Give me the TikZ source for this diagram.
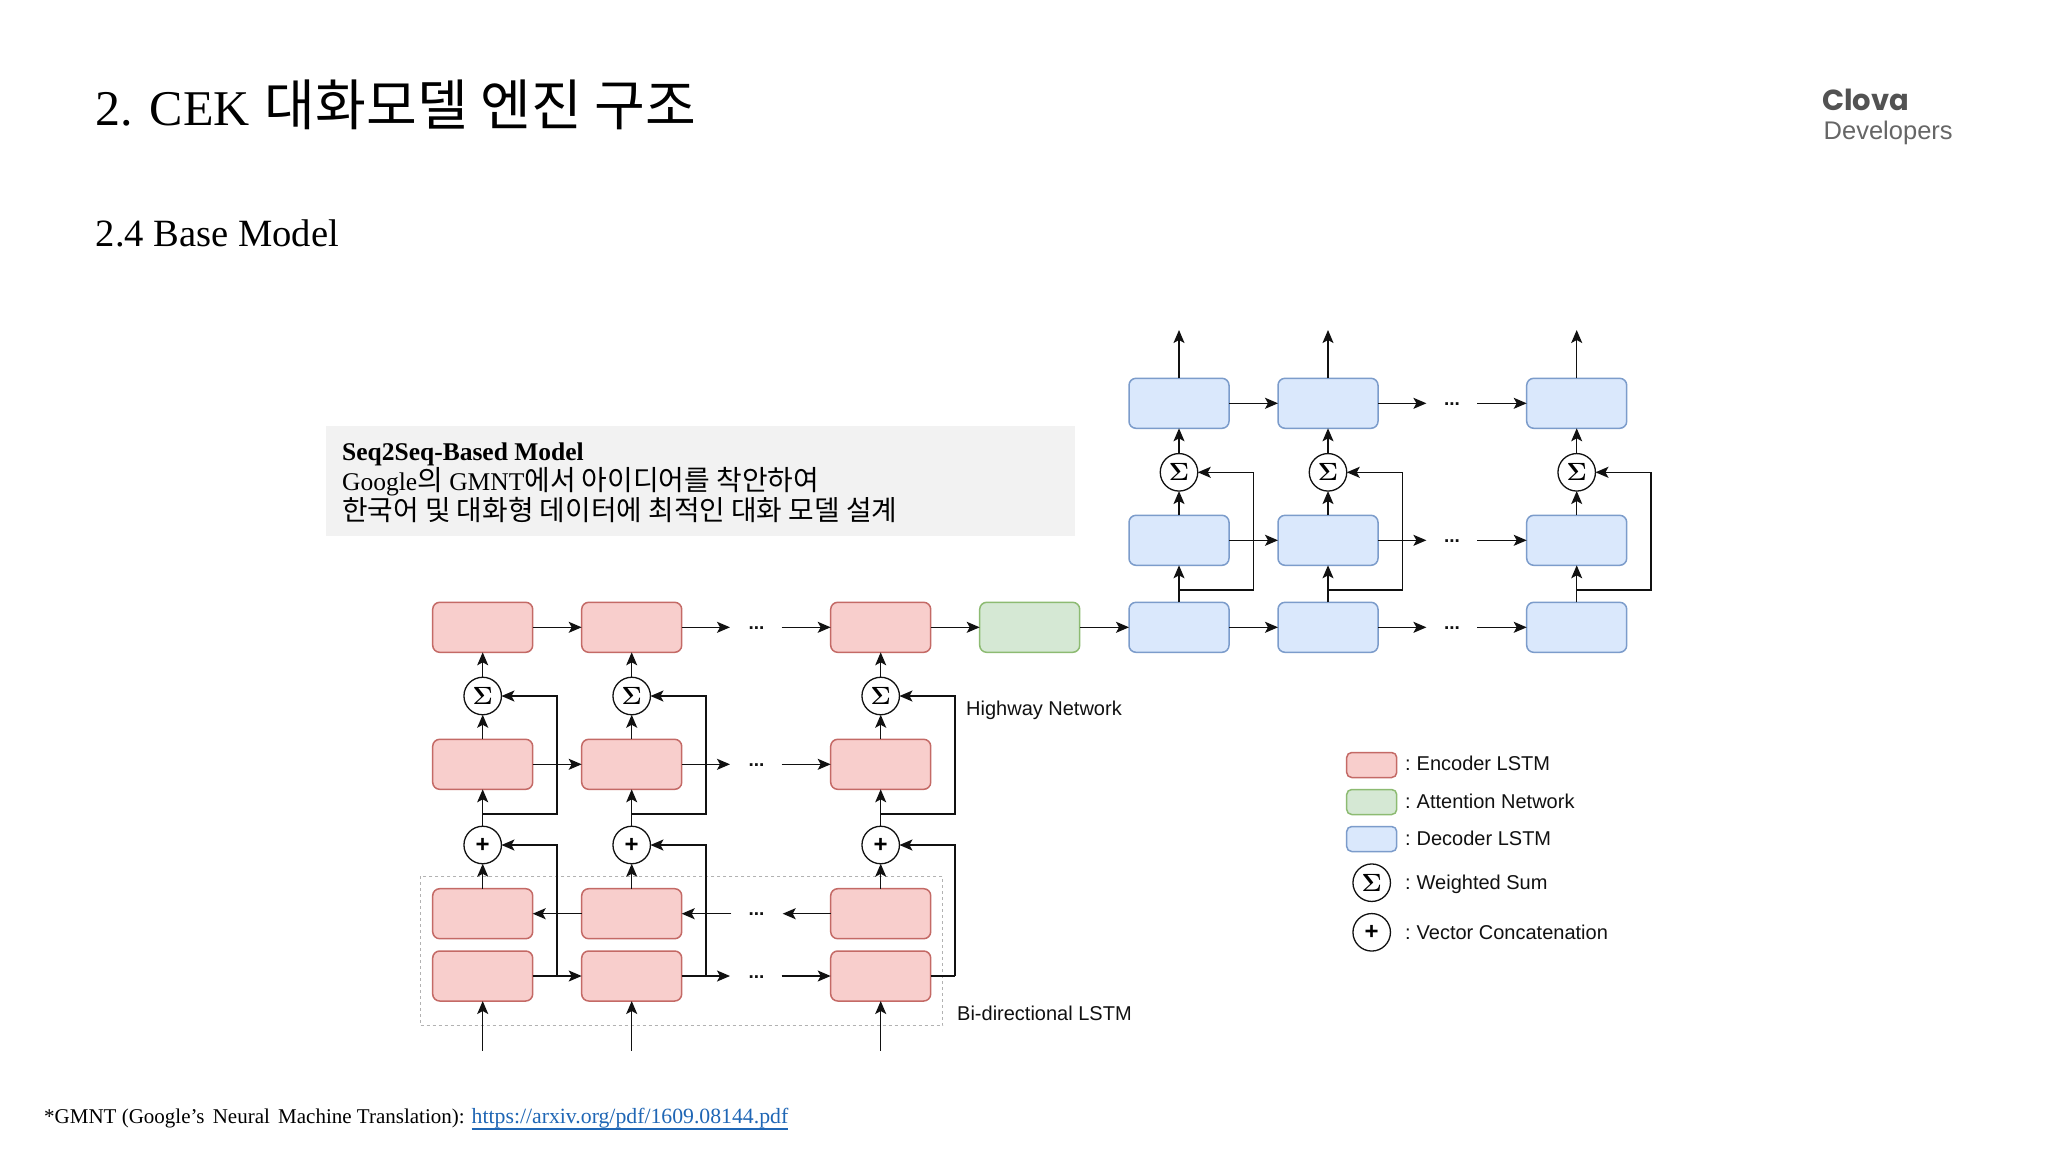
\documentclass[tikz,border=0pt]{standalone}
\usepackage{fontspec}
\usetikzlibrary{arrows.meta,calc}
\setmainfont{Liberation Serif}
\setsansfont{Liberation Sans}
\newfontfamily\kr{Noto Sans CJK KR}
\newfontfamily\logobold{Poppins}
\newcommand\fs[1]{\fontsize{#1}{#1}\selectfont}
\newcommand\opsum{{\boldmath$\Sigma$}}
\newcommand\opplus{{\sffamily\bfseries\fs{24}+}}
\definecolor{redfill}{HTML}{F8CECC}\definecolor{redline}{HTML}{C46A66}
\definecolor{greenfill}{HTML}{D5E8D4}\definecolor{greenline}{HTML}{8DBB72}
\definecolor{bluefill}{HTML}{DAE8FC}\definecolor{blueline}{HTML}{7C9CCB}
\definecolor{wire}{HTML}{111111}
\definecolor{panel}{HTML}{F2F2F2}
\definecolor{linkblue}{HTML}{1F66B5}
\tikzset{
  cell/.style={rounded corners=7pt,minimum width=100pt,minimum height=50pt,inner sep=0pt,outer sep=0pt,line width=1.5pt},
  enc/.style={cell,draw=redline,fill=redfill},
  att/.style={cell,draw=greenline,fill=greenfill},
  dec/.style={cell,draw=blueline,fill=bluefill},
  keycell/.style={rounded corners=5pt,minimum width=50pt,minimum height=25pt,inner sep=0pt,outer sep=0pt,line width=1.5pt},
  op/.style={circle,draw=wire,fill=white,minimum size=37.5pt,inner sep=0pt,outer sep=0pt,line width=1.3pt,font=\fs{23}},
  wirearrow/.style={draw=wire,line width=1.5pt,-{Stealth[length=13pt,width=11pt,inset=3pt]}},
  dots/.style={anchor=base,inner sep=0pt,font=\sffamily\bfseries\fs{19},text=wire},
  sans/.style={anchor=base west,inner sep=0pt,font=\sffamily\fs{20},text=wire},
  serif/.style={anchor=base west,inner sep=0pt,text=black},
}
\begin{document}
\begin{tikzpicture}[x=1pt,y=-1pt]
\useasboundingbox (0,0) rectangle (2048,1152);
\fill[white] (0,0) rectangle (2048,1152);

% titles
\node[serif,font=\fs{50}] (title) at (95.5,125) {2. CEK \hspace{2.5pt}{\kr\fs{55.2}대화모델 엔진 구조}};
\node[serif,font=\fs{38.6}] (subtitle) at (95.5,246) {2.4 Base Model};
\node[anchor=base west,inner sep=0pt,font=\logobold\bfseries\fs{29},text=black!68] (clova) at (1822,110) {Clova};
\node[anchor=base west,inner sep=0pt,font=\sffamily\fs{25.5},text=black!60] (devs) at (1823.5,139) {Developers};

% panel
\node[anchor=north west,fill=panel,minimum width=749pt,minimum height=110pt,inner sep=0pt] (panelbox) at (326,426) {};
\node[serif,font=\bfseries\fs{25.5}] (p1) at (342,460) {Seq2Seq-Based Model};
\node[serif,font=\fs{25.5}] (p2) at (342,490) {Google{\kr\fs{27.9}의} GMNT{\kr\fs{27.9}에서 아이디어를 착안하여}};
\node[serif,font=\kr\fs{27.8}] (p3) at (342,520.5) {한국어 및 대화형 데이터에 최적인 대화 모델 설계};

% footnote
\node[serif,font=\fs{21}] (foot) at (44,1123) {*GMNT (Google’s\hspace{3pt} Neural\hspace{3pt} Machine Translation):};
\node[serif,font=\fs{21.75},text=linkblue] (link) at (471.5,1123) {https://arxiv.org/pdf/1609.08144.pdf};
\draw[linkblue,line width=1.6pt] ($(link.base west)+(0,6)$) -- ($(link.base east)+(0,6)$);

% bi-directional frame
\node[draw=black!30,dashed,line width=1pt,minimum width=522pt,minimum height=149.7pt,inner sep=0pt] (bi) at (681.7,950.85) {};

% encoder nodes
\foreach \n/\x in {1/482.7,2/631.7,3/880.7}{
  \node[enc] (e\n a) at (\x,627.3) {};
  \node[op]  (s\n) at (\x,696) {\opsum};
  \node[enc] (e\n b) at (\x,764.3) {};
  \node[op]  (p\n) at (\x,845) {\opplus};
  \node[enc] (e\n c) at (\x,913.7) {};
  \node[enc] (e\n d) at (\x,976) {};
  \coordinate (in\n) at (\x,1050.7);
  \coordinate (branch\n) at (\x,814);
  \coordinate (branchr\n) at (\x+74.5,814);
  \coordinate (sumr\n) at (\x+74.5,696);
  \coordinate (plusr\n) at (\x+74.5,845);
  \coordinate (dr\n) at (\x+74.5,976);
  \draw[wirearrow] (in\n) -- (e\n d.south);
  \draw[wirearrow] (e\n c.north) -- (p\n.south);
  \draw[wirearrow] (p\n.north) -- (e\n b.south);
  \draw[wirearrow] (e\n b.north) -- (s\n.south);
  \draw[wirearrow] (s\n.north) -- (e\n a.south);
  \draw[wirearrow] (branch\n) -- (branchr\n) -- (sumr\n) -- (s\n.east);
  \draw[wirearrow] (dr\n) -- (plusr\n) -- (p\n.east);
}
\draw[draw=wire,line width=1.5pt] (e3d.east) -- (dr3);

% encoder rows
\foreach \r/\y in {a/627.3,b/764.3,d/976}{
  \coordinate (eo\r) at (730,\y);
  \coordinate (ei\r) at (781.5,\y);
  \draw[wirearrow] (e1\r.east) -- (e2\r.west);
  \draw[wirearrow] (e2\r.east) -- (eo\r);
  \draw[wirearrow] (ei\r) -- (e3\r.west);
  \node[dots] (ed\r) at (756.5,\y+2) {...};
}
\coordinate (eoc) at (731.4,913.7);
\coordinate (eic) at (782.7,913.7);
\draw[wirearrow] (e2c.west) -- (e1c.east);
\draw[wirearrow] (eoc) -- (e2c.east);
\draw[wirearrow] (e3c.west) -- (eic);
\node[dots] (edc) at (756.5,915.7) {...};

% attention
\node[att] (att) at (1029.7,627.3) {};
\draw[wirearrow] (e3a.east) -- (att.west);

% decoder nodes
\foreach \n/\x in {1/1179,2/1328,3/1576.7}{
  \node[dec] (d\n a) at (\x,403.3) {};
  \node[op]  (t\n) at (\x,472.3) {\opsum};
  \node[dec] (d\n b) at (\x,540.3) {};
  \node[dec] (d\n c) at (\x,627.3) {};
  \coordinate (out\n) at (\x,330);
  \coordinate (dbranch\n) at (\x,590);
  \coordinate (dbranchr\n) at (\x+74.5,590);
  \coordinate (dsumr\n) at (\x+74.5,472.3);
  \draw[wirearrow] (d\n a.north) -- (out\n);
  \draw[wirearrow] (t\n.north) -- (d\n a.south);
  \draw[wirearrow] (d\n b.north) -- (t\n.south);
  \draw[wirearrow] (d\n c.north) -- (d\n b.south);
  \draw[wirearrow] (dbranch\n) -- (dbranchr\n) -- (dsumr\n) -- (t\n.east);
}
\foreach \r/\y in {a/403.3,b/540.3,c/627.3}{
  \coordinate (do\r) at (1426.4,\y);
  \coordinate (di\r) at (1477,\y);
  \draw[wirearrow] (d1\r.east) -- (d2\r.west);
  \draw[wirearrow] (d2\r.east) -- (do\r);
  \draw[wirearrow] (di\r) -- (d3\r.west);
  \node[dots] (dd\r) at (1452,\y+2) {...};
}
\draw[wirearrow] (att.east) -- (d1c.west);

% labels
\node[sans] (lhw) at (966,715) {Highway Network};
\node[sans] (lbi) at (957,1020) {Bi-directional LSTM};

% legend
\node[keycell,draw=redline,fill=redfill] (k1) at (1371.7,765) {};
\node[keycell,draw=greenline,fill=greenfill] (k2) at (1371.7,802) {};
\node[keycell,draw=blueline,fill=bluefill] (k3) at (1371.7,839) {};
\node[op] (k4) at (1371.7,882.7) {\opsum};
\node[op] (k5) at (1371.7,932.3) {\opplus};
\node[sans] (t1) at (1405,770.7) {:\hspace{-1.5pt} Encoder LSTM};
\node[sans] (t2) at (1405,808) {:\hspace{-1.5pt} Attention Network};
\node[sans] (t3) at (1405,845) {:\hspace{-1.5pt} Decoder LSTM};
\node[sans] (t4) at (1405,889) {:\hspace{-1.5pt} Weighted Sum};
\node[sans] (t5) at (1405,939) {:\hspace{-1.5pt} Vector Concatenation};
\end{tikzpicture}
\end{document}
